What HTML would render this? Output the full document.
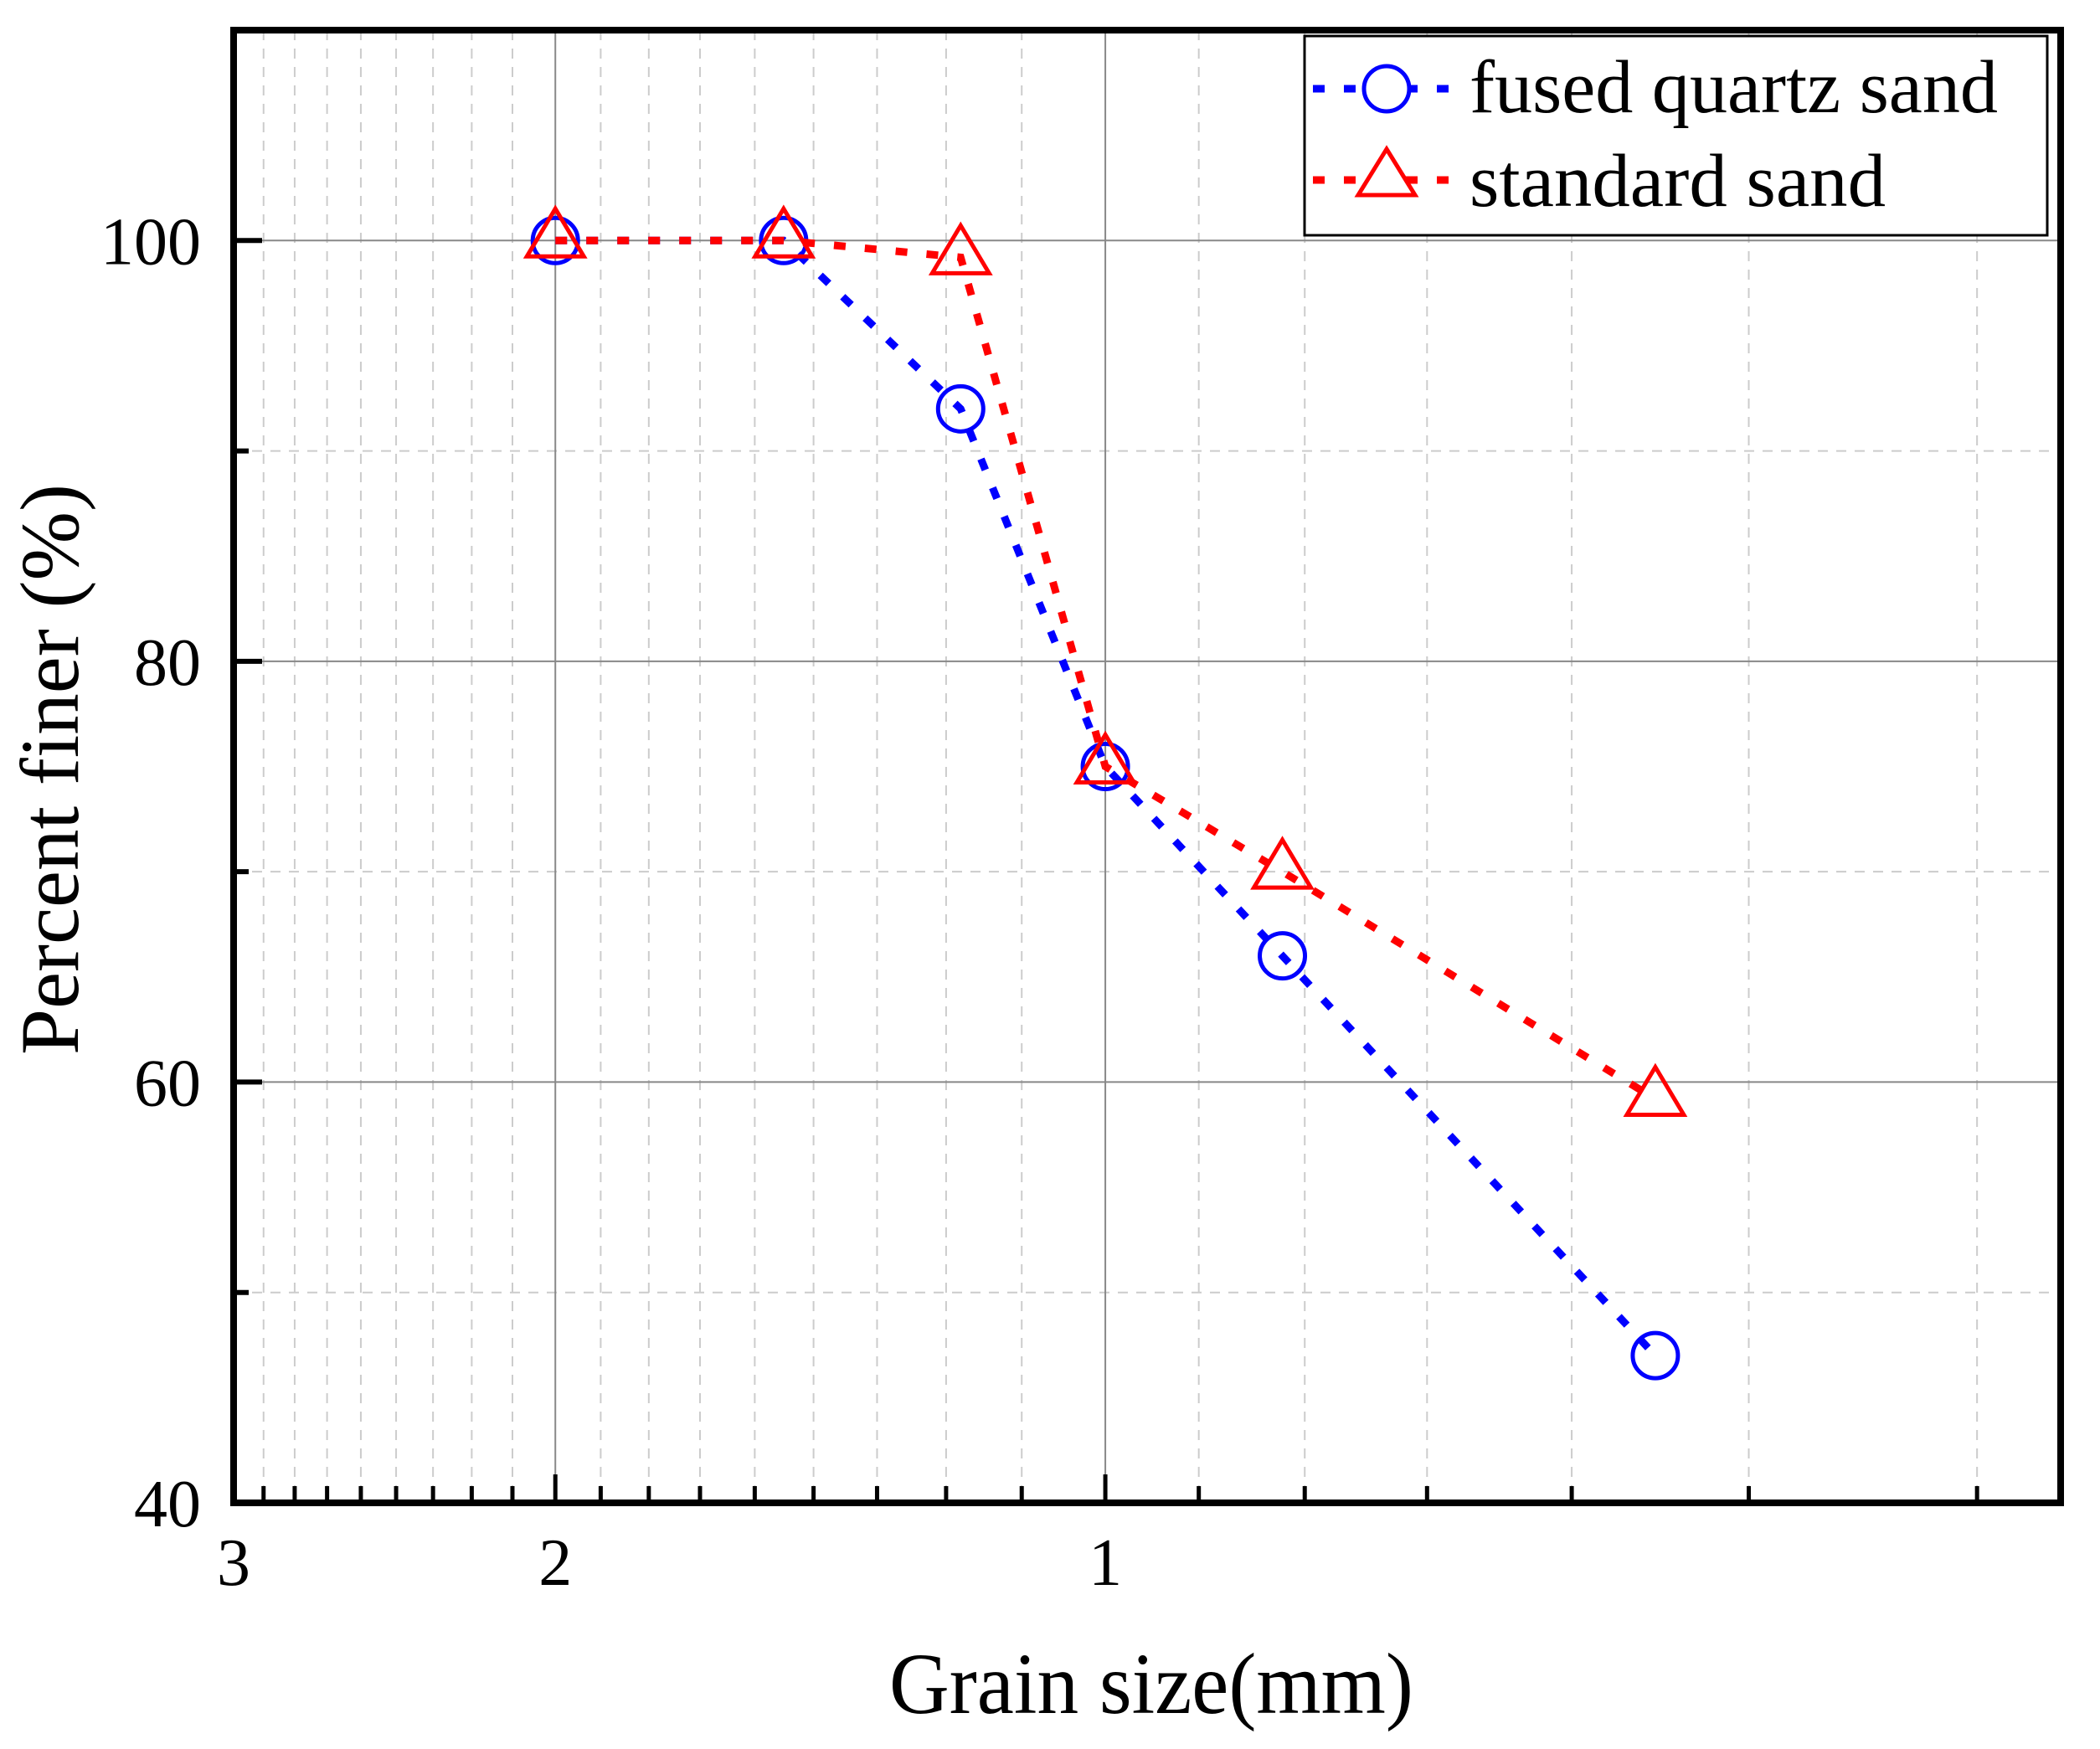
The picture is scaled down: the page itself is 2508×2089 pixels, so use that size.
<!DOCTYPE html>
<html><head><meta charset="utf-8"><style>
html,body{margin:0;padding:0;background:#fff;}
svg{display:block;font-family:"Liberation Serif","Times New Roman",serif;}
</style></head><body>
<svg id="chart" width="2508" height="2089" viewBox="0 0 2508 2089" xmlns="http://www.w3.org/2000/svg">
<rect width="2508" height="2089" fill="#fff"/>
<g id="grid"></g>
<g id="series"></g>
<g id="axes"></g>
<text x="1375" y="2046" font-size="104" text-anchor="middle" textLength="626" lengthAdjust="spacingAndGlyphs">Grain size(mm)</text>
<text transform="translate(93,919) rotate(-90)" font-size="100" text-anchor="middle" textLength="682" lengthAdjust="spacingAndGlyphs">Percent finer (%)</text>
<g>
<rect x="1558" y="43" width="887" height="238" fill="#fff" stroke="#000" stroke-width="3"/>
<g>
<line x1="1568" y1="106" x2="1740" y2="106" stroke="#0000ff" stroke-width="9" stroke-dasharray="14 23"/>
<circle cx="1656" cy="106" r="27" fill="#fff" stroke="#0000ff" stroke-width="5"/>
<text x="1755" y="134" font-size="90" textLength="631" lengthAdjust="spacingAndGlyphs">fused quartz sand</text>
</g>
<g>
<line x1="1568" y1="215" x2="1740" y2="215" stroke="#ff0000" stroke-width="9" stroke-dasharray="14 23"/>
<polygon points="1656,178 1690,233 1622,233" fill="#fff" stroke="#ff0000" stroke-width="5"/>
<text x="1755" y="246" font-size="90" textLength="497" lengthAdjust="spacingAndGlyphs">standard sand</text>
</g>
</g>
</svg>
<script>
const xTickValues = [3, 2, 1];
const xTickLabels = ["3", "2", "1"];
const yTickValues = [40, 60, 80, 100];
const yTickLabels = ["40", "60", "80", "100"];
const yMinorValues = [50, 70, 90];
const grainSizes = [2, 1.5, 1.2, 1, 0.8, 0.5];
const fusedQuartz = [100, 100, 92, 75, 66, 47];
const standardSand = [100, 100, 99.2, 75, 70, 59.2];

const L = 279, R = 2461, T = 36, B = 1795;
const XMAX = 3, XMIN = 0.3, YMIN = 40, YMAX = 110;
function xs(v){ return L + Math.log10(XMAX / v) / Math.log10(XMAX / XMIN) * (R - L); }
function ys(v){ return B - (v - YMIN) / (YMAX - YMIN) * (B - T); }
const NS = "http://www.w3.org/2000/svg";
function mk(tag, attrs, parent){
  const e = document.createElementNS(NS, tag);
  for (const k in attrs) e.setAttribute(k, attrs[k]);
  parent.appendChild(e); return e;
}
const grid = document.getElementById('grid');
const axes = document.getElementById('axes');
const series = document.getElementById('series');

const minorX = [];
for (let k = 1; k <= 8; k++) minorX.push(3 - k / 9);
for (let k = 1; k <= 8; k++) minorX.push(2 - k / 9);
for (let k = 1; k <= 6; k++) minorX.push(1 - k / 9);

minorX.forEach(v => {
  const x = xs(v);
  const g = mk('line', {x1:x, x2:x, y1:T, y2:B, stroke:'#cccccc', 'stroke-width':2, 'stroke-dasharray':'12 10'}, grid);
  
  
  const t = mk('line', {x1:x, x2:x, y1:B, y2:B-20, stroke:'#000', 'stroke-width':5}, axes);
  
  
});
yMinorValues.forEach(v => {
  const y = ys(v);
  const g = mk('line', {x1:L, x2:R, y1:y, y2:y, stroke:'#cccccc', 'stroke-width':2, 'stroke-dasharray':'12 10'}, grid);
  
  
  const t = mk('line', {x1:L, x2:L+18, y1:y, y2:y, stroke:'#000', 'stroke-width':6}, axes);
  
  
});
xTickValues.forEach((v, i) => {
  const x = xs(v);
  if (i > 0) {
    const g = mk('line', {x1:x, x2:x, y1:T, y2:B, stroke:'#888', 'stroke-width':2}, grid);
    
    
  }
  const t = mk('line', {x1:x, x2:x, y1:B, y2:B-34, stroke:'#000', 'stroke-width':5}, axes);
  
  
  const lb = mk('text', {x:x, y:1893, 'font-size':80, 'text-anchor':'middle'}, axes);
  lb.textContent = xTickLabels[i];
  
  
});
yTickValues.forEach((v, i) => {
  const y = ys(v);
  if (i > 0) {
    const g = mk('line', {x1:L, x2:R, y1:y, y2:y, stroke:'#888', 'stroke-width':2}, grid);
    
    
  }
  const t = mk('line', {x1:L, x2:L+34, y1:y, y2:y, stroke:'#000', 'stroke-width':6}, axes);
  
  
  const lb = mk('text', {x:240, y:y+28, 'font-size':80, 'text-anchor':'end'}, axes);
  lb.textContent = yTickLabels[i];
  
  
});
const frame = mk('rect', {x:L, y:T, width:R-L, height:B-T, fill:'none', stroke:'#000', 'stroke-width':8}, axes);



function drawSeries(vals, color, kind, name){
  const pts = grainSizes.map((g, i) => xs(g) + ',' + ys(vals[i])).join(' ');
  const pl = mk('polyline', {points:pts, fill:'none', stroke:color, 'stroke-width':9, 'stroke-dasharray':'14 23'}, series);
  
  
  grainSizes.forEach((g, i) => {
    const x = xs(g), y = ys(vals[i]);
    let m;
    if (kind === 'circle') {
      m = mk('circle', {cx:x, cy:y, r:27, fill:'none', stroke:color, 'stroke-width':5}, series);
    } else {
      m = mk('polygon', {points:`${x},${y-38} ${x+34},${y+19} ${x-34},${y+19}`, fill:'none', stroke:color, 'stroke-width':5}, series);
    }
    
    
  });
}
drawSeries(fusedQuartz, '#0000ff', 'circle', 'fused-quartz');
drawSeries(standardSand, '#ff0000', 'triangle', 'standard-sand');
</script>
</body></html>
